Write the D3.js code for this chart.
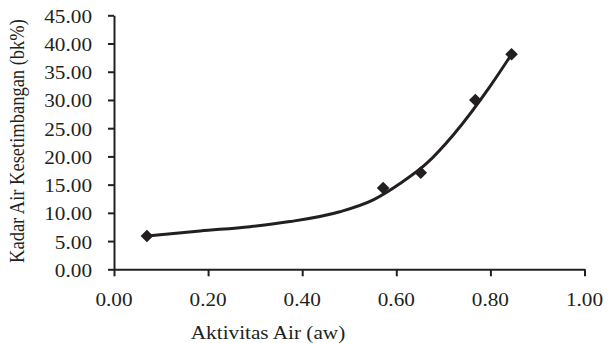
<!DOCTYPE html>
<html><head><meta charset="utf-8">
<script src="https://cdn.jsdelivr.net/npm/d3@7/dist/d3.min.js"></script>
<style>html,body{margin:0;padding:0;background:#fff}</style>
</head><body>
<svg id="c" width="613" height="343"></svg>
<script>
// observed data (markers)
const aw = [0.070, 0.572, 0.652, 0.768, 0.845];
const kadar = [5.9, 14.4, 17.1, 30.0, 38.1];
// trendline
const trendX = [0.070, 0.183, 0.289, 0.374, 0.480, 0.551, 0.608, 0.665, 0.721, 0.800, 0.845];
const trendY = [5.9, 6.8, 7.55, 8.45, 10.2, 12.3, 15.2, 18.8, 23.8, 32.5, 38.1];
const xTicks = [0, 0.2, 0.4, 0.6, 0.8, 1.0];
const yTicks = [0, 5, 10, 15, 20, 25, 30, 35, 40, 45];
const xTitle = "Aktivitas Air (aw)";
const yTitle = "Kadar Air Kesetimbangan (bk%)";

const svg = d3.select("#c");
const x = d3.scaleLinear().domain([0, 1]).range([114, 584.5]);
const y = d3.scaleLinear().domain([0, 45]).range([269.3, 15.3]);
const ink = "#231f20";
const font = "'Liberation Serif','Times New Roman',serif";
const fs = 18, sx = 1.18;

svg.append("rect").attr("width", 613).attr("height", 343).attr("fill", "#fff");

const gy = svg.append("g").attr("transform", `translate(${x(0)},0)`)
  .call(d3.axisLeft(y).tickValues(yTicks).tickSize(6).tickSizeOuter(0).tickFormat(""));
const gx = svg.append("g").attr("transform", `translate(0,${y(0)})`)
  .call(d3.axisBottom(x).tickValues(xTicks).tickSize(7).tickSizeOuter(0).tickFormat(""));
[gx, gy].forEach(g => {
  g.select(".domain").attr("stroke", ink).attr("stroke-width", 2);
  g.selectAll(".tick line").attr("stroke", ink).attr("stroke-width", 2);
});

function label(txt, px, py, anchor) {
  svg.append("text").text(txt)
    .attr("transform", `translate(${px},${py}) scale(${sx},1)`)
    .attr("text-anchor", anchor)
    .attr("font-family", font).attr("font-size", fs).attr("fill", ink);
}
yTicks.forEach(v => label(d3.format(".2f")(v), 92, y(v) + 7.5, "end"));
xTicks.forEach(v => label(d3.format(".2f")(v), x(v), 306, "middle"));
label(xTitle, 268, 339, "middle");

svg.append("text").text(yTitle)
  .attr("transform", `translate(24,141) scale(${sx},1) rotate(-90)`)
  .attr("text-anchor", "middle")
  .attr("font-family", font).attr("font-size", 18.5).attr("fill", ink);

const line = d3.line().x(d => x(d[0])).y(d => y(d[1])).curve(d3.curveMonotoneX);
svg.append("path").datum(d3.zip(trendX, trendY)).attr("d", line)
  .attr("fill", "none").attr("stroke", ink).attr("stroke-width", 3);

svg.selectAll(".m").data(d3.zip(aw, kadar)).join("path")
  .attr("d", d3.symbol(d3.symbolSquare, 80))
  .attr("transform", d => `translate(${x(d[0])},${y(d[1])}) rotate(45)`)
  .attr("fill", ink);
</script>
</body></html>
